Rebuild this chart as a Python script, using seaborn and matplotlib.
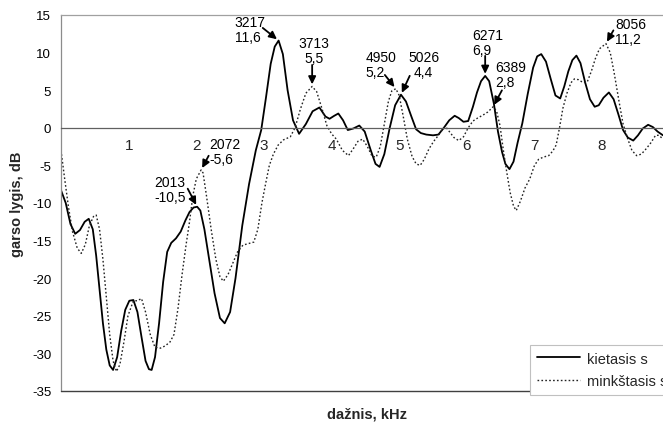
import matplotlib
matplotlib.use("Agg")
import matplotlib.pyplot as plt
import numpy as np
import pandas as pd
import seaborn as sns

# --- data: sound level spectra (kHz, dB) ---
kiet_f = [0.00, 0.07, 0.14, 0.21, 0.28, 0.35, 0.41, 0.47, 0.52, 0.57, 0.62, 0.67, 0.72,
          0.77, 0.83, 0.89, 0.95, 1.01, 1.07, 1.13, 1.19, 1.25, 1.30, 1.34, 1.39, 1.45,
          1.51, 1.57, 1.63, 1.70, 1.77, 1.84, 1.90, 1.96, 2.013, 2.06, 2.12, 2.19, 2.27,
          2.35, 2.42, 2.50, 2.58, 2.68, 2.78, 2.88, 2.96, 3.03, 3.10, 3.16, 3.217, 3.28,
          3.35, 3.43, 3.52, 3.62, 3.72, 3.82, 3.91, 3.97, 4.04, 4.10, 4.17, 4.24, 4.32,
          4.41, 4.49, 4.58, 4.65, 4.71, 4.78, 4.86, 4.94, 5.026, 5.10, 5.18, 5.25, 5.32,
          5.40, 5.50, 5.58, 5.66, 5.74, 5.82, 5.88, 5.95, 6.02, 6.09, 6.15, 6.21, 6.271,
          6.33, 6.40, 6.46, 6.52, 6.57, 6.63, 6.69, 6.75, 6.82, 6.90, 6.98, 7.04, 7.10,
          7.17, 7.24, 7.31, 7.38, 7.44, 7.50, 7.56, 7.62, 7.68, 7.75, 7.82, 7.89, 7.95,
          8.02, 8.10, 8.17, 8.24, 8.31, 8.38, 8.46, 8.53, 8.60, 8.68, 8.75, 8.82, 8.90]
kiet_db = [-8.3, -10.0, -12.8, -14.1, -13.6, -12.5, -12.1, -13.5, -17.0, -21.5, -26.0, -29.5, -31.6,
           -32.2, -30.5, -27.0, -24.2, -23.0, -22.9, -24.5, -27.8, -31.0, -32.1, -32.2, -30.5, -26.0,
           -20.5, -16.5, -15.3, -14.7, -13.8, -12.3, -11.2, -10.6, -10.5, -11.0, -13.5, -17.5, -22.0,
           -25.3, -26.0, -24.5, -20.0, -13.0, -7.5, -3.0, -0.3, 4.0, 8.5, 10.8, 11.6, 9.8,
           5.0, 1.0, -0.8, 0.5, 2.2, 2.7, 1.5, 1.2, 1.6, 1.9, 1.0, -0.3, -0.1,
           0.3, -0.5, -3.0, -4.8, -5.2, -3.5, 0.0, 3.0, 4.4, 3.5, 1.5, -0.2, -0.7,
           -0.9, -1.0, -0.9, 0.0, 1.0, 1.6, 1.3, 0.8, 0.9, 2.8, 4.7, 6.2, 6.9,
           6.2, 3.2, -0.5, -3.2, -4.8, -5.5, -4.5, -2.0, 0.6, 4.5, 8.0, 9.5, 9.8,
           8.8, 6.5, 4.3, 3.9, 5.5, 7.5, 9.0, 9.6, 8.6, 6.0, 3.8, 2.8, 3.0,
           4.0, 4.7, 3.8, 1.8, -0.3, -1.3, -1.7, -1.0, -0.1, 0.4, 0.1, -0.5, -1.0]

mink_f = [0.00, 0.05, 0.11, 0.17, 0.24, 0.30, 0.36, 0.42, 0.48, 0.52, 0.57, 0.62, 0.67,
          0.72, 0.77, 0.82, 0.87, 0.93, 0.99, 1.07, 1.13, 1.19, 1.25, 1.32, 1.39, 1.47,
          1.54, 1.61, 1.67, 1.73, 1.79, 1.85, 1.90, 1.95, 2.00, 2.072, 2.10, 2.15, 2.22,
          2.29, 2.35, 2.40, 2.47, 2.54, 2.61, 2.69, 2.77, 2.85, 2.91, 2.97, 3.03, 3.08,
          3.14, 3.21, 3.29, 3.39, 3.46, 3.54, 3.62, 3.713, 3.78, 3.86, 3.93, 4.00, 4.07,
          4.16, 4.25, 4.32, 4.39, 4.46, 4.53, 4.60, 4.66, 4.72, 4.78, 4.84, 4.89, 4.950,
          5.00, 5.06, 5.12, 5.19, 5.25, 5.31, 5.37, 5.44, 5.51, 5.58, 5.64, 5.69, 5.75,
          5.81, 5.88, 5.95, 6.02, 6.09, 6.16, 6.24, 6.31, 6.389, 6.44, 6.49, 6.54, 6.59,
          6.64, 6.69, 6.73, 6.79, 6.86, 6.93, 7.00, 7.06, 7.13, 7.21, 7.27, 7.32, 7.37,
          7.42, 7.48, 7.54, 7.59, 7.65, 7.72, 7.78, 7.84, 7.90, 7.96, 8.056, 8.12, 8.18,
          8.25, 8.31, 8.38, 8.44, 8.51, 8.58, 8.65, 8.72, 8.79, 8.84, 8.90]
mink_db = [-3.0, -6.5, -10.5, -13.8, -16.0, -16.7, -15.5, -13.0, -11.8, -11.6, -13.5, -17.5, -22.5,
           -27.5, -31.0, -32.4, -31.5, -28.5, -25.0, -23.0, -23.0, -22.7, -24.5, -27.5, -29.2, -29.3,
           -29.0, -28.5, -27.5, -24.0, -19.5, -15.5, -12.5, -9.0, -6.8, -5.6, -6.0, -9.0, -13.5,
           -17.5, -19.8, -20.4, -19.5, -18.0, -16.5, -15.6, -15.4, -15.2, -13.5, -10.0, -7.2, -5.0,
           -3.5, -2.3, -1.6, -1.2, 0.0, 2.5, 4.6, 5.5, 4.8, 2.5, 0.3, -0.8, -1.5,
           -3.0, -3.7, -2.8, -1.8, -1.5, -2.5, -3.8, -3.9, -2.5, 0.5, 3.5, 4.9, 5.2,
           4.3, 1.5, -1.5, -3.8, -4.8, -5.0, -4.2, -2.8, -1.8, -1.0, -0.2, 0.1, -0.6,
           -1.3, -1.7, -1.2, 0.0, 0.9, 1.3, 1.7, 2.1, 2.8, 2.2, 0.3, -3.0, -5.9,
           -8.6, -10.4, -11.0, -9.8, -8.0, -6.8, -5.0, -4.2, -3.9, -3.7, -3.1, -2.3, 0.0,
           2.6, 4.6, 6.0, 6.5, 6.4, 6.0, 6.1, 7.5, 9.2, 10.5, 11.2, 10.0, 7.2,
           3.5, 0.5, -1.5, -3.0, -3.7, -3.5, -2.8, -2.0, -1.0, -1.0, -1.5]

series_names = ["kietasis s", "minkštasis s"]

# labelled peaks (frequency in Hz, level in dB)
kiet_peak_hz = [2013, 3217, 5026, 6271]
kiet_peak_db = [-10.5, 11.6, 4.4, 6.9]
mink_peak_hz = [2072, 3713, 4950, 6389, 8056]
mink_peak_db = [-5.6, 5.5, 5.2, 2.8, 11.2]

y_ticks = [15, 10, 5, 0, -5, -10, -15, -20, -25, -30, -35]
x_ticks = [1, 2, 3, 4, 5, 6, 7, 8]

# --- style ---
sns.set_theme(style="white")
plt.rcParams["font.family"] = ["Liberation Sans", "DejaVu Sans"]
plt.rcParams["axes.unicode_minus"] = False

W, H = 663, 427
fig = plt.figure(figsize=(W / 100, H / 100), dpi=100)
ax = fig.add_axes([61 / W, 35 / H, 602 / W, 376 / H])

df = pd.DataFrame({
    "f": kiet_f + mink_f,
    "db": kiet_db + mink_db,
    "s": [series_names[0]] * len(kiet_f) + [series_names[1]] * len(mink_f),
})

sns.lineplot(data=df[df.s == series_names[0]], x="f", y="db", ax=ax, color="black",
             linewidth=1.3, label=series_names[0], estimator=None, sort=False)
sns.lineplot(data=df[df.s == series_names[1]], x="f", y="db", ax=ax, color="#222222",
             linewidth=1.0, label=series_names[1], estimator=None, sort=False,
             linestyle=(0, (1.2, 1.6)))

ax.set_xlim(0, 8.9)
ax.set_ylim(-35, 15)
ax.set_yticks(y_ticks)
ax.set_xticks(x_ticks)
ax.set_yticklabels([str(v) for v in y_ticks], fontsize=9.5, color="black")
ax.set_xticklabels([str(v) for v in x_ticks], fontsize=9.5, color="black")

# axes frame: x axis runs through 0 dB, plain border on top and bottom
ax.spines["bottom"].set_position(("data", 0))
ax.spines["bottom"].set_color("#606060")
ax.spines["bottom"].set_linewidth(0.9)
ax.spines["top"].set_color("#a0a0a0")
ax.spines["top"].set_linewidth(0.9)
ax.spines["left"].set_color("#8c8c8c")
ax.spines["left"].set_linewidth(0.9)
ax.spines["right"].set_visible(False)
ax.axhline(-35, color="#404040", lw=1.0, clip_on=False, zorder=3)

ax.tick_params(axis="x", direction="out", length=3.5, width=0.8, color="#c0c0c0", pad=4)
ax.tick_params(axis="y", direction="out", length=3, width=0.8, color="#8c8c8c", pad=4)
ax.grid(False)

ax.set_xlabel("dažnis, kHz", fontsize=10.5, fontweight="bold")
ax.set_ylabel("garso lygis, dB", fontsize=10.5, fontweight="bold")
ax.xaxis.set_label_coords(0.508, -0.040)
ax.yaxis.set_label_coords(-0.062, 0.5)


def fmt(hz, db):
    return f"{hz}\n{db:.1f}".replace(".", ",")


# (text offset, text alignment, arrow tail offset) in points from the peak
label_layout = {
    2013: ((-30.6, 12.7), "left", (-6.8, 13.0)),
    3217: ((-31.6, 8.1), "left", (-11.4, 9.1)),
    5026: ((16.4, 21.9), "center", (6.3, 13.6)),
    6271: ((-9.6, 24.1), "left", (0.0, 14.4)),
    2072: ((6.1, 13.5), "left", (5.4, 10.2)),
    3713: ((1.2, 26.0), "center", (0.0, 15.5)),
    4950: ((-21.6, 17.5), "left", (-7.9, 9.9)),
    6389: ((1.2, 23.0), "left", (6.3, 11.8)),
    8056: ((6.5, 8.6), "left", (5.4, 9.5)),
}

for hz_list, db_list in ((kiet_peak_hz, kiet_peak_db), (mink_peak_hz, mink_peak_db)):
    for hz, db in zip(hz_list, db_list):
        toff, ha, aoff = label_layout[hz]
        xy = (hz / 1000.0, db)
        ax.annotate(fmt(hz, db), xy=xy, xytext=toff, textcoords="offset points",
                    ha=ha, va="center", multialignment=ha, fontsize=10,
                    linespacing=1.1, color="black", zorder=5)
        ax.annotate("", xy=xy, xytext=aoff, textcoords="offset points",
                    arrowprops=dict(arrowstyle="-|>,head_length=0.45,head_width=0.22",
                                    color="black", lw=1.3, shrinkA=0, shrinkB=1.5,
                                    mutation_scale=10), zorder=5)

leg = ax.legend(loc="upper left", bbox_to_anchor=(530 / W, 1 - 346 / H),
                bbox_transform=fig.transFigure, frameon=True, fancybox=False,
                edgecolor="#c0c0c0", framealpha=1, borderaxespad=0, fontsize=10.5,
                handlelength=3.0, handletextpad=0.45, labelspacing=0.6, borderpad=0.45)
leg.get_frame().set_linewidth(0.8)

fig.savefig("out.png", dpi=100)
